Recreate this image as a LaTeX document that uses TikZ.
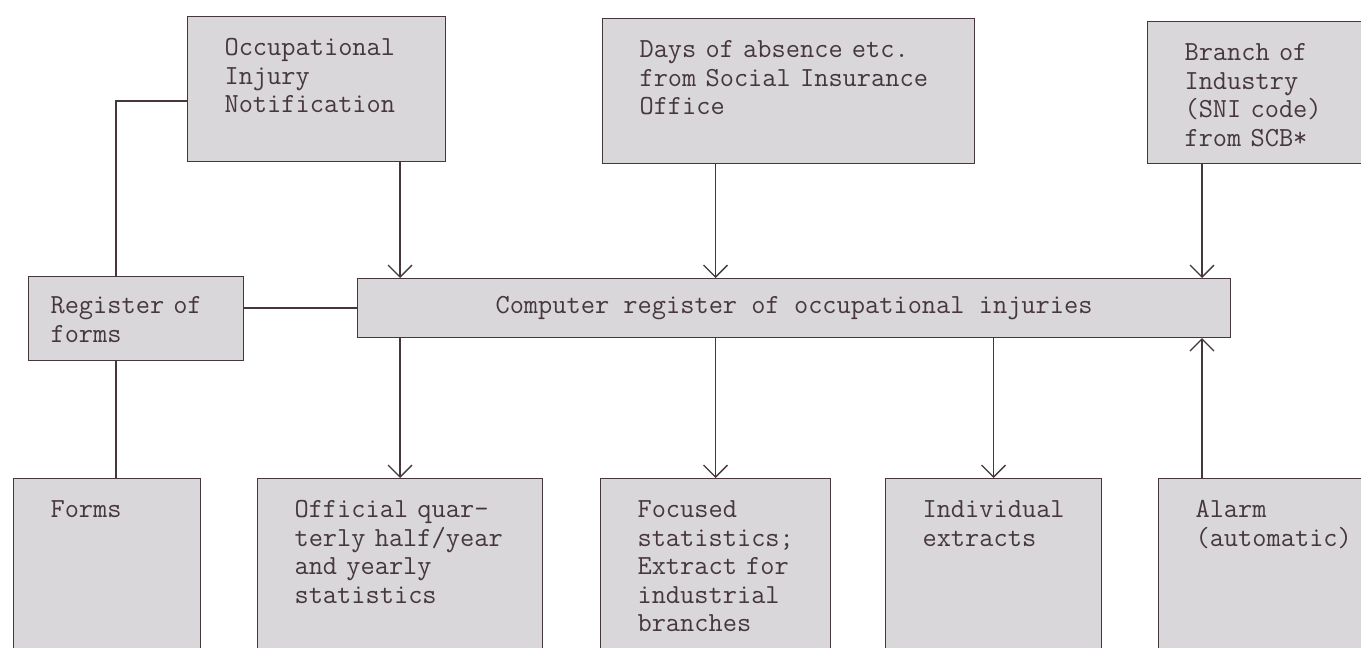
\documentclass[tikz,border=0pt]{standalone}
\usepackage{tikz}
\usetikzlibrary{arrows.meta}

\definecolor{boxgray}{RGB}{217,215,217}
\definecolor{inkcol}{RGB}{70,55,60}

\begin{document}
\begin{tikzpicture}[
  x=1pt,y=-1pt,
  box/.style={draw=inkcol,fill=boxgray,line width=1.1pt,anchor=north west,
    align=left,inner xsep=37pt,inner ysep=0pt,text height=39pt,
    font=\fontsize{27.6}{28.5}\selectfont\ttfamily,text=inkcol},
  widebox/.style={draw=inkcol,fill=boxgray,line width=1.1pt,anchor=north west,
    font=\fontsize{27.6}{28.5}\selectfont\ttfamily,text=inkcol},
  link/.style={draw=inkcol,line width=1.3pt},
  >={Straight Barb[length=12pt,width=24pt]}
]
\clip (0,0) rectangle (1361,648);
\fill[white] (0,0) rectangle (1361,648);
% sources
\node[box,text width=184pt,text depth=106pt] (occ) at (187,16) {Occupational\\Injury\\Notification};
\node[box,text width=298pt,text depth=106pt] (days) at (602,18) {Days of absence etc.\\from Social Insurance\\Office};
\node[box,text width=150pt,text depth=103pt] (branch) at (1147,21) {Branch of\\Industry\\(SNI code)\\from SCB*};
% registers
\node[box,inner xsep=22pt,text width=171pt,text height=37pt,text depth=47pt] (register) at (28,276) {Register of\\forms};
\node[widebox,minimum width=873pt,minimum height=59pt] (computer) at (357,278) {Computer register of occupational injuries};
% outputs
\node[box,text width=113pt,text depth=250pt] (forms) at (13,478) {Forms};
\node[box,text width=211pt,text depth=250pt] (official) at (257,478) {Official quar-\\terly half/year\\and yearly\\statistics};
\node[box,text width=156pt,text depth=250pt] (focused) at (600,478) {Focused\\statistics;\\Extract for\\industrial\\branches};
\node[box,text width=142pt,text depth=250pt] (individual) at (885,478) {Individual\\extracts};
\node[box,text width=160pt,text depth=250pt] (alarm) at (1158,478) {Alarm\\(automatic)};
\coordinate (alarmcol) at ([xshift=44pt]alarm.north west);

% form handling
\draw[link] ([yshift=-12pt]occ.west) -| ([xshift=-20pt]register.north);
\draw[link] ([xshift=-20pt]register.south) coordinate (r) -- (r |- forms.north);
\draw[link] (computer.west) -- (computer.west -| register.east);
% into the register
\draw[link,->] (occ.south -| official.north) -- (official.north |- computer.north);
\draw[link,->] (days.south -| focused.north) -- (focused.north |- computer.north);
\draw[link,->] (branch.south -| alarmcol) -- (alarmcol |- computer.north);
% out of the register
\draw[link,->] (computer.south -| official.north) -- (official.north);
\draw[link,->] (computer.south -| focused.north) -- (focused.north);
\draw[link,->] (computer.south -| individual.north) -- (individual.north);
\draw[link,->] (alarmcol) -- (alarmcol |- computer.south);
\end{tikzpicture}
\end{document}
